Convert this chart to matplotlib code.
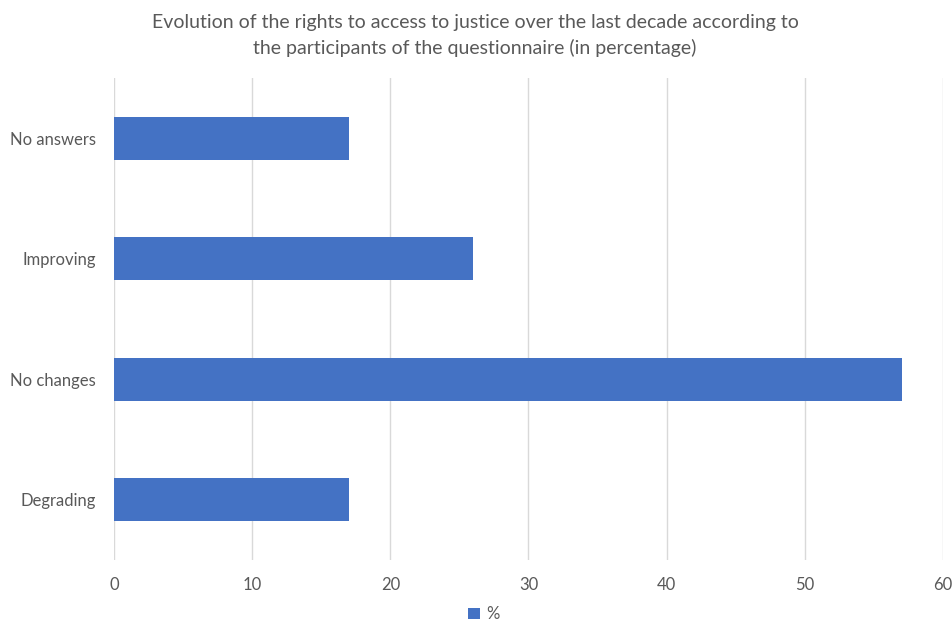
import matplotlib

matplotlib.use("Agg")
import matplotlib.pyplot as plt

categories = ["Degrading", "No changes", "Improving", "No answers"]
values = [17, 57, 26, 17]
xticks = [0, 10, 20, 30, 40, 50, 60]
series_name = "%"
title = ("Evolution of the rights to access to justice over the last decade according to\n"
         "the participants of the questionnaire (in percentage)")

BAR_COLOR = "#4472C4"
TEXT_COLOR = "#595959"
GRID_COLOR = "#D9D9D9"

plt.rcParams["font.family"] = ["Lato", "DejaVu Sans"]

fig = plt.figure(figsize=(9.53, 6.23), dpi=100)
ax = fig.add_axes([0.1196, 0.1011, 0.8699, 0.7737])

ypos = list(range(len(categories)))
ax.barh(ypos, values, height=0.36, color=BAR_COLOR, label=series_name, zorder=3)

ax.set_xlim(0, 60)
ax.set_ylim(-0.5, len(categories) - 0.5)
ax.set_xticks(xticks)
ax.set_xticklabels([str(t) for t in xticks])
ax.set_yticks(ypos)
ax.set_yticklabels(categories)
ax.tick_params(axis="both", length=0, labelsize=12, colors=TEXT_COLOR)
ax.tick_params(axis="x", pad=12)
ax.tick_params(axis="y", pad=13)

ax.grid(axis="x", color=GRID_COLOR, linewidth=1, zorder=0)
for s in ax.spines.values():
    s.set_visible(False)

fig.text(0.4985, 0.943, title, ha="center", va="center", fontsize=14,
         color=TEXT_COLOR, linespacing=1.5)

fig.legend(loc="center", bbox_to_anchor=(0.508, 0.014), frameon=False,
           fontsize=12, labelcolor=TEXT_COLOR, handlelength=0.7,
           handleheight=0.7, handletextpad=0.4, borderpad=0.2)

fig.savefig("out.png", dpi=100)
